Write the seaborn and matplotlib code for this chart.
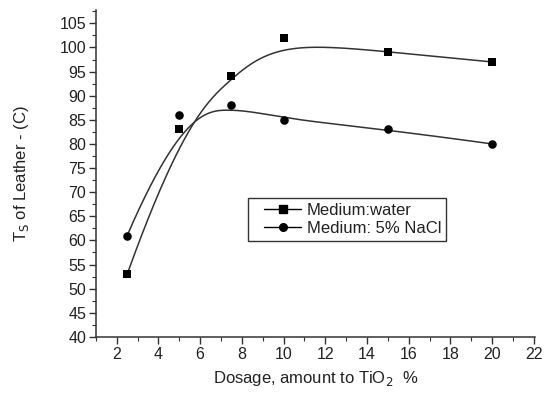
import numpy as np
import pandas as pd
import matplotlib
matplotlib.use("Agg")
import matplotlib.pyplot as plt
import seaborn as sns
from matplotlib.ticker import MultipleLocator
from matplotlib.lines import Line2D
from matplotlib.legend_handler import HandlerLine2D

dosage = [2.5, 5, 7.5, 10, 15, 20]
ts_water = [53, 83, 94, 102, 99, 97]
ts_nacl = [61, 86, 88, 85, 83, 80]
series_names = ["Medium:water", "Medium: 5% NaCl"]
x_ticks = [2, 4, 6, 8, 10, 12, 14, 16, 18, 20, 22]
y_ticks = [40, 45, 50, 55, 60, 65, 70, 75, 80, 85, 90, 95, 100, 105]


def bspline(px, py, n=400, k=3):
    # clamped uniform cubic B-spline using the data points as control points
    px = np.asarray(px, float)
    py = np.asarray(py, float)
    m = len(px)
    inner = np.linspace(0, 1, m - k + 1)
    knots = np.concatenate([[0] * k, inner, [1] * k])
    t = np.linspace(0, 1, n)
    t[-1] = 1 - 1e-12
    B = np.zeros((n, len(knots) - 1))
    for i in range(len(knots) - 1):
        B[:, i] = (t >= knots[i]) & (t < knots[i + 1])
    for d in range(1, k + 1):
        Bn = np.zeros((n, len(knots) - 1 - d))
        for i in range(len(knots) - 1 - d):
            a = knots[i + d] - knots[i]
            b = knots[i + d + 1] - knots[i + 1]
            term = 0
            if a > 0:
                term = term + (t - knots[i]) / a * B[:, i]
            if b > 0:
                term = term + (knots[i + d + 1] - t) / b * B[:, i + 1]
            Bn[:, i] = term
        B = Bn
    return B @ px, B @ py


sns.set_theme(style="ticks")
plt.rcParams["font.family"] = ["Liberation Sans", "DejaVu Sans"]
txt = "#222222"

fig = plt.figure(figsize=(5.48, 3.94), dpi=100)
ax = fig.add_axes([0.175, 0.145, 0.801, 0.83])

markers = ["s", "o"]
for name, vals, mk in zip(series_names, [ts_water, ts_nacl], markers):
    xs, ys = bspline(dosage, vals)
    ax.plot(xs, ys, color="#333333", lw=1.1)
    sns.scatterplot(x=dosage, y=vals, ax=ax, marker=mk, color="black", s=38,
                    edgecolor="black", linewidth=0, legend=False, zorder=3)

ax.set_xlim(1.0, 22.05)
ax.set_ylim(40, 107.8)
ax.set_xticks(x_ticks)
ax.set_yticks(y_ticks)
ax.xaxis.set_minor_locator(MultipleLocator(1))
ax.yaxis.set_minor_locator(MultipleLocator(2.5))
ax.tick_params(which="major", length=5, width=1, color="#333333", labelsize=11.5, labelcolor=txt, pad=2)
ax.tick_params(which="minor", length=3, width=0.8, color="#333333")
sns.despine(ax=ax)
for s in ["left", "bottom"]:
    ax.spines[s].set_color("#333333")
    ax.spines[s].set_linewidth(1.1)

ax.set_xlabel("Dosage, amount to TiO$_2$  %", fontsize=12, color=txt, labelpad=5)
ax.set_ylabel("T$_\\mathrm{S}$ of Leather - (C)", fontsize=12, color=txt)
ax.yaxis.set_label_coords(-0.148, 0.5)

handles = [Line2D([0], [0], color="black", lw=1, marker=m, markersize=5.5)
           for m in markers]
leg = ax.legend(handles, series_names, loc="upper left",
                bbox_to_anchor=(0.346, 0.425), frameon=True, fancybox=False,
                fontsize=12, handlelength=2.9, handletextpad=0.35,
                borderpad=0.3, labelspacing=0.2, borderaxespad=0,
                handler_map={Line2D: HandlerLine2D(xpad=0.7)})
leg.get_frame().set_edgecolor("black")
leg.get_frame().set_linewidth(1.0)
for t in leg.get_texts():
    t.set_color(txt)

fig.savefig("out.png", dpi=100)
